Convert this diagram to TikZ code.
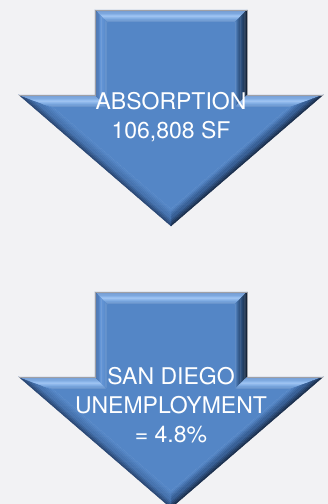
\documentclass[tikz,border=0pt]{standalone}
\usepackage{fontspec}
\newfontfamily\arrowfont{TeX Gyre Heros}
\usetikzlibrary{calc}

\definecolor{bgcol}{RGB}{242,242,244}
\definecolor{bevelmain}{RGB}{84,134,198}
\definecolor{rimgray}{RGB}{160,160,165}
\definecolor{topedge}{RGB}{95,140,200}
\definecolor{toppeak}{RGB}{150,190,240}
\definecolor{shadowedge}{RGB}{20,35,55}
\definecolor{shadowpeak}{RGB}{45,80,125}
\definecolor{headedge}{RGB}{100,145,205}
\definecolor{rightedge}{RGB}{25,45,75}
\definecolor{rightpeak}{RGB}{55,95,150}
\definecolor{leftedge}{RGB}{40,70,115}
\definecolor{leftpeak}{RGB}{70,115,175}
\definecolor{sideedge}{RGB}{60,100,160}
\definecolor{sidepeak}{RGB}{100,150,215}

% one bevel face between outer corners o#1,o#2 and inner corners i#1,i#2
\newcommand{\facet}[4]{%
  \foreach \k in {0,...,9}{%
    \pgfmathsetmacro{\fa}{\k/10}%
    \pgfmathsetmacro{\fb}{(\k+1)/10}%
    \pgfmathtruncatemacro{\w}{100-mod(\k,5)*25}%
    \ifnum\k<5 \colorlet{stripe}{#3!\w!#4}\else\colorlet{stripe}{#4!\w!bevelmain}\fi
    \fill[stripe,draw=stripe,line width=0.3pt]
      ($(o#1)!\fa!(i#1)$) -- ($(o#2)!\fa!(i#2)$) -- ($(o#2)!\fb!(i#2)$) -- ($(o#1)!\fb!(i#1)$) -- cycle;
  }}

\newcommand{\bevelarrow}{%
  \coordinate (o1) at (95,10);   \coordinate (i1) at (108,23);
  \coordinate (o2) at (247,10);  \coordinate (i2) at (234,23);
  \coordinate (o3) at (247,95);  \coordinate (i3) at (234,108);
  \coordinate (o4) at (323,95);  \coordinate (i4) at (288,108);
  \coordinate (o5) at (171,226); \coordinate (i5) at (171,208.8);
  \coordinate (o6) at (19,95);   \coordinate (i6) at (54,108);
  \coordinate (o7) at (95,95);   \coordinate (i7) at (108,108);
  \facet{1}{2}{topedge}{toppeak}
  \facet{2}{3}{shadowedge}{shadowpeak}
  \facet{3}{4}{headedge}{toppeak}
  \facet{4}{5}{rightedge}{rightpeak}
  \facet{5}{6}{leftedge}{leftpeak}
  \facet{6}{7}{headedge}{toppeak}
  \facet{7}{1}{sideedge}{sidepeak}
  \fill[bevelmain] (i1) -- (i2) -- (i3) -- (i4) -- (i5) -- (i6) -- (i7) -- cycle;
  \draw[rimgray,line width=0.5pt] (o1) -- (o2) -- (o3) -- (o4);
  \draw[rimgray,line width=0.5pt] (o6) -- (o7) -- (o1);
}

\begin{document}
\begin{tikzpicture}[x=1pt,y=-1pt,
  caption/.style={text=white,align=center,inner sep=0pt,
    font=\arrowfont\fontsize{23}{29}\selectfont}]
\fill[bgcol] (0,0) rectangle (328,504);
\useasboundingbox (0,0) rectangle (328,504);
\begin{scope}
\bevelarrow
\end{scope}
\begin{scope}[shift={(0,282)}]
\bevelarrow
\end{scope}
\node (absorption)   at (171,116.8) [caption] {ABSORPTION\\106,808 SF};
\node (unemployment) at (171,405.3) [caption] {SAN DIEGO\\UNEMPLOYMENT\\= 4.8\%};
\end{tikzpicture}
\end{document}
